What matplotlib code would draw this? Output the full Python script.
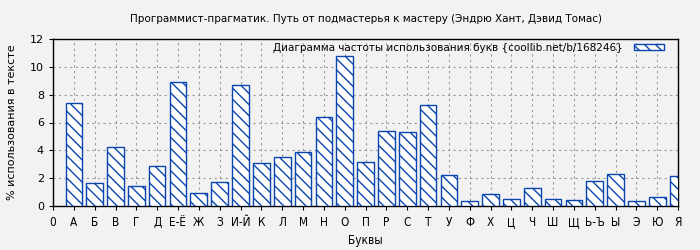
import matplotlib
matplotlib.use("Agg")
import matplotlib.pyplot as plt

letters = ["А", "Б", "В", "Г", "Д", "Е-Ё", "Ж", "З", "И-Й", "К", "Л", "М", "Н", "О", "П",
           "Р", "С", "Т", "У", "Ф", "Х", "Ц", "Ч", "Ш", "Щ", "Ь-Ъ", "Ы", "Э", "Ю", "Я"]
freq = [7.39, 1.63, 4.22, 1.44, 2.86, 8.90, 0.91, 1.70, 8.69, 3.07, 3.50, 3.86, 6.38, 10.78, 3.14,
        5.38, 5.30, 7.25, 2.21, 0.34, 0.84, 0.48, 1.27, 0.48, 0.41, 1.78, 2.28, 0.34, 0.62, 2.14]
tick_labels = ["0"] + letters

title = "Программист-прагматик. Путь от подмастерья к мастеру (Эндрю Хант, Дэвид Томас)"
legend_text = "Диаграмма частоты использования букв {coollib.net/b/168246}"

bg = "#f2f2f2"
blue = "#0a45b0"
plt.rcParams["hatch.linewidth"] = 1.0
plt.rcParams["hatch.color"] = blue

fig = plt.figure(figsize=(7, 2.5), dpi=100, facecolor=bg)
ax = fig.add_axes([53 / 700, 44 / 250, 625 / 700, 167 / 250], facecolor=bg)

pos = list(range(1, len(letters) + 1))
ax.bar(pos, freq, width=0.8, facecolor="white", edgecolor=blue, linewidth=1,
       hatch="\\\\\\", label=legend_text, zorder=3)

ax.set_xlim(0, 30)
ax.set_ylim(0, 12)
ax.set_xticks(range(len(tick_labels)))
ax.set_xticklabels(tick_labels, fontsize=8.5, fontstretch="condensed")
ax.set_yticks(range(0, 13, 2))
ax.tick_params(axis="y", labelsize=8, length=3)
ax.tick_params(axis="x", length=3, pad=4)
ax.grid(True, color="#999999", linestyle=(0, (2, 3)), linewidth=0.8, zorder=0)

for s in ax.spines.values():
    s.set_color("black")
    s.set_linewidth(1)

ax.set_title(title, fontsize=7.5, pad=12)
ax.set_xlabel("Буквы", fontsize=8.5, fontstretch="condensed", labelpad=4)
ax.set_ylabel("% использования в тексте", fontsize=8, labelpad=9)

ax.legend(loc="upper right", bbox_to_anchor=(0.978, 0.978), fontsize=7.5,
          frameon=False, markerfirst=False,
          handlelength=2.9, handleheight=0.6, handletextpad=1.05,
          borderaxespad=0, borderpad=0)

fig.savefig("out.png", dpi=100, facecolor=bg)
